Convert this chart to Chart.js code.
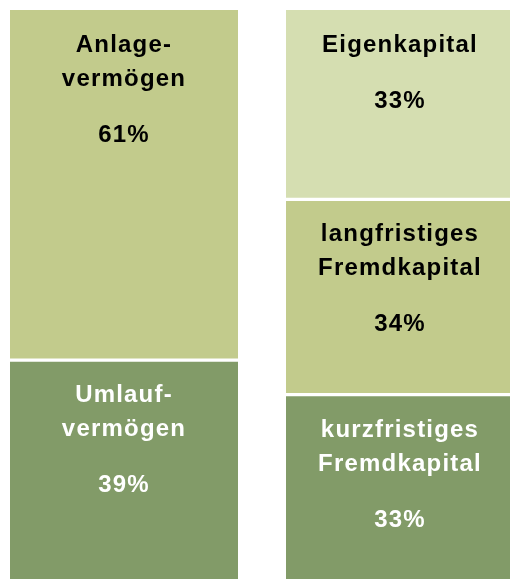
<!DOCTYPE html>
<html>
<head>
<meta charset="utf-8">
<script src="https://cdn.jsdelivr.net/npm/chart.js@4/dist/chart.umd.min.js"></script>
<style>
  html, body { margin: 0; padding: 0; background: #ffffff; width: 510px; height: 579px; overflow: hidden; position: relative; }
  #wrap { position: absolute; left: -14px; top: 10px; width: 552px; height: 574px; }
</style>
</head>
<body>
<div id="wrap"><canvas id="c" width="552" height="574"></canvas></div>
<script>
// Categories (the two sides of the balance sheet)
const categories = ["Aktiva", "Passiva"];

// Series values in percent, stacked from the bottom up
const bottomValues = [39, 33];   // Umlaufvermögen | kurzfristiges Fremdkapital
const middleValues = [61, 34];   // Anlagevermögen | langfristiges Fremdkapital
const topValues    = [null, 33]; // –              | Eigenkapital

// Label lines for each segment
const bottomLabels = [["Umlauf-", "vermögen"], ["kurzfristiges", "Fremdkapital"]];
const middleLabels = [["Anlage-", "vermögen"], ["langfristiges", "Fremdkapital"]];
const topLabels    = [null, ["Eigenkapital"]];

const colorDark  = "#829b68";
const colorMid   = "#c2cb8c";
const colorLight = "#d5deb1";

function isTopSegment(ctx) {
  const i = ctx.dataIndex;
  const sets = ctx.chart.data.datasets;
  for (let d = ctx.datasetIndex + 1; d < sets.length; d++) {
    const v = sets[d].data[i];
    if (v !== null && v !== undefined && v !== 0) return false;
  }
  return true;
}

const segmentLabels = {
  id: "segmentLabels",
  afterDatasetsDraw(chart) {
    const ctx = chart.ctx;
    ctx.save();
    ctx.font = "bold 24px 'Liberation Sans', Arial, sans-serif";
    ctx.textAlign = "center";
    ctx.textBaseline = "alphabetic";
    try { ctx.letterSpacing = "1.2px"; } catch (e) {}
    chart.data.datasets.forEach((ds, di) => {
      const meta = chart.getDatasetMeta(di);
      meta.data.forEach((el, i) => {
        const v = ds.data[i];
        const lines = ds.labelLines[i];
        if (v === null || v === undefined || !lines) return;
        const top = Math.min(el.y, el.base);
        ctx.fillStyle = ds.labelColor;
        let y = top + 42;
        lines.forEach((t, k) => {
          ctx.fillText(t, el.x, y);
          if (k < lines.length - 1) y += 34;
        });
        y += 56;
        ctx.fillText(v + "%", el.x, y);
      });
    });
    ctx.restore();
  }
};

const borderFn = (ctx) => ({
  top: isTopSegment(ctx) ? 0 : 2,
  bottom: ctx.datasetIndex === 0 ? 0 : 2,
  left: 0,
  right: 0
});

new Chart(document.getElementById("c"), {
  type: "bar",
  data: {
    labels: categories,
    datasets: [
      { label: "unten", data: bottomValues, backgroundColor: colorDark, labelColor: "#ffffff", labelLines: bottomLabels },
      { label: "mitte", data: middleValues, backgroundColor: colorMid, labelColor: "#000000", labelLines: middleLabels },
      { label: "oben",  data: topValues,    backgroundColor: colorLight, labelColor: "#000000", labelLines: topLabels }
    ]
  },
  options: {
    responsive: false,
    animation: false,
    devicePixelRatio: 1,
    layout: { padding: 0 },
    datasets: {
      bar: {
        barThickness: 228,
        borderColor: "#ffffff",
        borderWidth: borderFn,
        borderSkipped: false
      }
    },
    scales: {
      x: { stacked: true, display: false },
      y: { stacked: true, display: false, min: 0, max: 100 }
    },
    plugins: {
      legend: { display: false },
      tooltip: { enabled: false }
    }
  },
  plugins: [segmentLabels]
});
</script>
</body>
</html>
